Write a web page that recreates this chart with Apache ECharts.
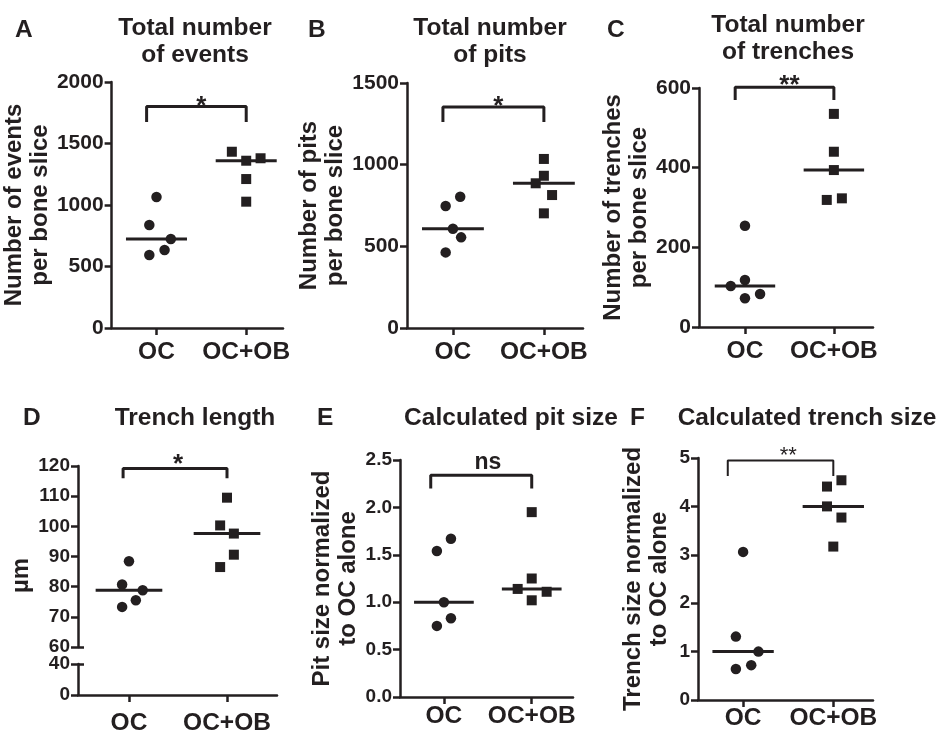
<!DOCTYPE html>
<html>
<head>
<meta charset="utf-8">
<script src="https://cdn.jsdelivr.net/npm/echarts@6/dist/echarts.min.js"></script>
<style>
html, body { margin: 0; padding: 0; background: #fff; }
#chart { width: 942px; height: 736px; }
</style>
</head>
<body>
<div id="chart"></div>
<script>
// 分组
const groups = ['OC', 'OC+OB'];

// A 事件总数
const eventsOC = [1065, 837, 723, 634, 593];
const eventsOCOB = [1433, 1360, 1380, 1211, 1027];
const eventsJitOC = [0, -0.08, 0.16, 0.09, -0.08];
const eventsJitOCOB = [-0.16, 0, 0.16, 0, 0];

// B 凹坑总数
const pitsOC = [804, 747, 608, 555, 463];
const pitsOCOB = [1035, 932, 886, 814, 702];
const pitsJitOC = [0.08, -0.08, 0, 0.09, -0.08];
const pitsJitOCOB = [0, 0, -0.09, 0.09, 0];

// C 沟槽总数
const trenchesOC = [254, 118, 103, 83, 72];
const trenchesOCOB = [535, 440, 394, 319, 323];
const trenchesJitOC = [0, 0, -0.16, 0.17, 0];
const trenchesJitOCOB = [0, 0, 0, -0.08, 0.09];

// D 沟槽长度 (µm)
const lengthOC = [88.4, 80.7, 78.8, 75.5, 73.3];
const lengthOCOB = [109.5, 100.3, 97.6, 90.6, 86.5];
const lengthJitOC = [0, -0.07, 0.14, 0.07, -0.07];
const lengthJitOCOB = [0, -0.07, 0.07, 0.07, -0.07];

// E 凹坑大小
const pitSizeOC = [1.67, 1.54, 1.00, 0.83, 0.75];
const pitSizeOCOB = [1.95, 1.25, 1.14, 1.11, 1.02];
const pitSizeJitOC = [0.08, -0.08, 0, 0.08, -0.08];
const pitSizeJitOCOB = [0, 0, -0.16, 0.17, 0];

// F 沟槽大小
const trenchSizeOC = [3.06, 1.31, 1.00, 0.72, 0.64];
const trenchSizeOCOB = [4.54, 4.41, 4.00, 3.77, 3.17];
const trenchSizeJitOC = [0, -0.08, 0.17, 0.09, -0.08];
const trenchSizeJitOCOB = [0.09, -0.07, -0.07, 0.09, 0];

// 显著性标注
const sigLabels = ['*', '*', '**', '*', 'ns', '**'];
const sigTop = [1800, 1353, 602, 119.2, 2.34, 4.95];
const sigBottom = [1675, 1261, 570, 115.9, 2.2, 4.63];

const ink = '#231f20';
const font = 'Liberation Sans, Arial, Helvetica, sans-serif';

const panels = [
    { letter: 'A', title: 'Total number\nof events', yName: 'Number of events\nper bone slice',
      grid: { left: 107, top: 82, width: 176, height: 246 }, xMin: 0.5, xMax: 2.41,
      yMin: 0, yMax: 2000, yStep: 500, oc: eventsOC, ocob: eventsOCOB, jOC: eventsJitOC, jOCOB: eventsJitOCOB,
      nameGap: 48, catMargin: 12, tickFont: 21, bx0: 0.89, titleX: 190, titleY: 10, letterX: 10, letterY: 13,
      sigOffset: 0, sigFont: 26, sigBold: true },
    { letter: 'B', title: 'Total number\nof pits', yName: 'Number of pits\nper bone slice',
      grid: { left: 407, top: 83, width: 176, height: 245 }, xMin: 0.495, xMax: 2.43,
      yMin: 0, yMax: 1500, yStep: 500, oc: pitsOC, ocob: pitsOCOB, jOC: pitsJitOC, jOCOB: pitsJitOCOB,
      nameGap: 49, catMargin: 12, tickFont: 21, bx0: 0.89, titleX: 485, titleY: 10, letterX: 303, letterY: 13,
      sigOffset: 0, sigFont: 26, sigBold: true },
    { letter: 'C', title: 'Total number\nof trenches', yName: 'Number of trenches\nper bone slice',
      grid: { left: 699, top: 88, width: 174, height: 239 }, xMin: 0.483, xMax: 2.44,
      yMin: 0, yMax: 600, yStep: 200, oc: trenchesOC, ocob: trenchesOCOB, jOC: trenchesJitOC, jOCOB: trenchesJitOCOB,
      nameGap: 43, catMargin: 12, tickFont: 21, bx0: 0.89, titleX: 783, titleY: 7, letterX: 602, letterY: 13,
      sigOffset: -1, sigFont: 26, sigBold: true },
    { letter: 'D', title: 'Trench length', yName: 'µm',
      grid: { left: 78, top: 466, width: 199, height: 181 }, xMin: 0.48, xMax: 2.51,
      yMin: 60, yMax: 120, yStep: 10, oc: lengthOC, ocob: lengthOCOB, jOC: lengthJitOC, jOCOB: lengthJitOCOB,
      nameGap: 34, catMargin: 16, tickFont: 19, bx0: 0.94, titleX: 190, titleY: 400, letterX: 18, letterY: 401,
      sigOffset: -4, sigFont: 26, sigBold: true, broken: true },
    { letter: 'E', title: 'Calculated pit size', yName: 'Pit size normalized\nto OC alone',
      grid: { left: 400, top: 460, width: 173, height: 237 }, xMin: 0.5, xMax: 2.47,
      yMin: 0, yMax: 2.5, yStep: 0.5, oc: pitSizeOC, ocob: pitSizeOCOB, jOC: pitSizeJitOC, jOCOB: pitSizeJitOCOB,
      nameGap: 39, catMargin: 7, tickFont: 19, bx0: 0.85, titleX: 506, titleY: 400, letterX: 312, letterY: 401,
      sigOffset: -13, sigFont: 23, sigBold: true, decimals: 1 },
    { letter: 'F', title: 'Calculated trench size', yName: 'Trench size normalized\nto OC alone',
      grid: { left: 698, top: 458, width: 175, height: 242 }, xMin: 0.5, xMax: 2.44,
      yMin: 0, yMax: 5, yStep: 1, oc: trenchSizeOC, ocob: trenchSizeOCOB, jOC: trenchSizeJitOC, jOCOB: trenchSizeJitOCOB,
      nameGap: 26, catMargin: 6, tickFont: 19, bx0: 0.83, titleX: 802, titleY: 400, letterX: 625, letterY: 401,
      sigOffset: -4, sigFont: 22, sigBold: false }
];

function median(arr) {
    const s = arr.slice().sort((a, b) => a - b);
    return s[Math.floor(s.length / 2)];
}

function points(vals, jit, center) {
    return vals.map((v, i) => [center + jit[i], v]);
}

const textBase = { color: ink, fontFamily: font, fontWeight: 'bold' };
const lineBase = { color: ink, width: 2.5 };

const grids = [], xAxes = [], yAxes = [], series = [], titles = [];
const extraY = [];

panels.forEach((p, i) => {
    const gi = grids.length;
    grids.push(p.grid);

    titles.push({ text: p.title, left: p.titleX, top: p.titleY, textAlign: 'center',
        textStyle: Object.assign({}, textBase, { fontSize: 24.5, lineHeight: 27 }) });
    titles.push({ text: p.letter, left: p.letterX, top: p.letterY,
        textStyle: Object.assign({}, textBase, { fontSize: 24.5, lineHeight: 24 }) });

    const catAxis = {
        type: 'value', min: p.xMin, max: p.xMax,
        axisLine: { show: true, onZero: false, lineStyle: lineBase },
        axisTick: { show: true, customValues: [1, 2], length: 7, lineStyle: lineBase },
        axisLabel: Object.assign({ customValues: [1, 2], formatter: v => groups[Math.round(v) - 1],
            margin: p.catMargin, fontSize: 24.5 }, textBase),
        splitLine: { show: false }
    };

    xAxes.push(Object.assign({ gridIndex: gi }, catAxis, p.broken ? { show: false } : {}));

    const yName = {
        name: p.yName, nameLocation: 'middle', nameRotate: 90, nameGap: p.nameGap,
        nameTextStyle: Object.assign({ fontSize: 24, lineHeight: 26 }, textBase,
            p.broken ? { padding: [0, 38, 0, 0] } : {})
    };
    yAxes.push(Object.assign({
        gridIndex: gi, type: 'value', min: p.yMin, max: p.yMax, interval: p.yStep,
        axisLine: { show: true, onZero: false, lineStyle: lineBase },
        axisTick: { show: true, length: 7, lineStyle: lineBase },
        axisLabel: Object.assign({ fontSize: p.tickFont, margin: 8,
            formatter: v => p.decimals ? v.toFixed(p.decimals) : String(v) }, textBase),
        splitLine: { show: false }
    }, yName));

    const mOC = median(p.oc), mOCOB = median(p.ocob);
    const hw = 0.34;
    const dot = { color: ink, opacity: 1 };
    series.push(
        { type: 'scatter', xAxisIndex: gi, yAxisIndex: gi, symbol: 'circle', symbolSize: 10.5,
          itemStyle: dot, data: points(p.oc, p.jOC, 1), z: 3 },
        { type: 'scatter', xAxisIndex: gi, yAxisIndex: gi, symbol: 'rect', symbolSize: 10,
          itemStyle: dot, data: points(p.ocob, p.jOCOB, 2), z: 3 },
        { type: 'line', xAxisIndex: gi, yAxisIndex: gi, symbol: 'none', silent: true,
          lineStyle: { color: ink, width: 3 }, data: [[1 - hw, mOC], [1 + hw, mOC]] },
        { type: 'line', xAxisIndex: gi, yAxisIndex: gi, symbol: 'none', silent: true,
          lineStyle: { color: ink, width: 3 }, data: [[2 - hw, mOCOB], [2 + hw, mOCOB]] },
        { type: 'line', xAxisIndex: gi, yAxisIndex: gi, symbol: 'none', silent: true, clip: false,
          lineStyle: { color: ink, width: p.sigBold ? 3 : 2 },
          data: [[p.bx0, sigBottom[i]], [p.bx0, sigTop[i]], [2, sigTop[i]], [2, sigBottom[i]]] },
        { type: 'scatter', xAxisIndex: gi, yAxisIndex: gi, symbolSize: 0, silent: true, clip: false,
          itemStyle: dot, data: [[1.5, sigTop[i]]],
          label: { show: true, position: 'inside', offset: [0, p.sigOffset], formatter: sigLabels[i],
              fontSize: p.sigFont, fontWeight: p.sigBold ? 'bold' : 'normal', color: ink, fontFamily: font } }
    );

    if (p.broken) {
        // 断轴下段 0–40
        const lo = grids.length;
        grids.push({ left: p.grid.left, top: 664, width: p.grid.width, height: 32 });
        xAxes.push(Object.assign({ gridIndex: lo }, catAxis));
        yAxes.push({
            gridIndex: lo, type: 'value', min: 0, max: 40, interval: 40,
            axisLine: { show: true, onZero: false, lineStyle: lineBase },
            axisTick: { show: true, length: 7, lineStyle: lineBase },
            axisLabel: Object.assign({ fontSize: p.tickFont, margin: 8 }, textBase),
            splitLine: { show: false }
        });
        // 断点标记
        extraY.push({ gridIndex: gi, type: 'value', position: 'left', min: p.yMin, max: p.yMax,
            axisLine: { show: false }, axisLabel: { show: false }, splitLine: { show: false },
            axisTick: { show: true, inside: true, customValues: [60], length: 6, lineStyle: lineBase } });
        extraY.push({ gridIndex: lo, type: 'value', position: 'left', min: 0, max: 40,
            axisLine: { show: false }, axisLabel: { show: false }, splitLine: { show: false },
            axisTick: { show: true, inside: true, customValues: [40], length: 6, lineStyle: lineBase } });
    }
});

const chart = echarts.init(document.getElementById('chart'));
chart.setOption({
    animation: false,
    backgroundColor: '#fff',
    title: titles,
    grid: grids,
    xAxis: xAxes,
    yAxis: yAxes.concat(extraY),
    series: series
});
</script>
</body>
</html>
